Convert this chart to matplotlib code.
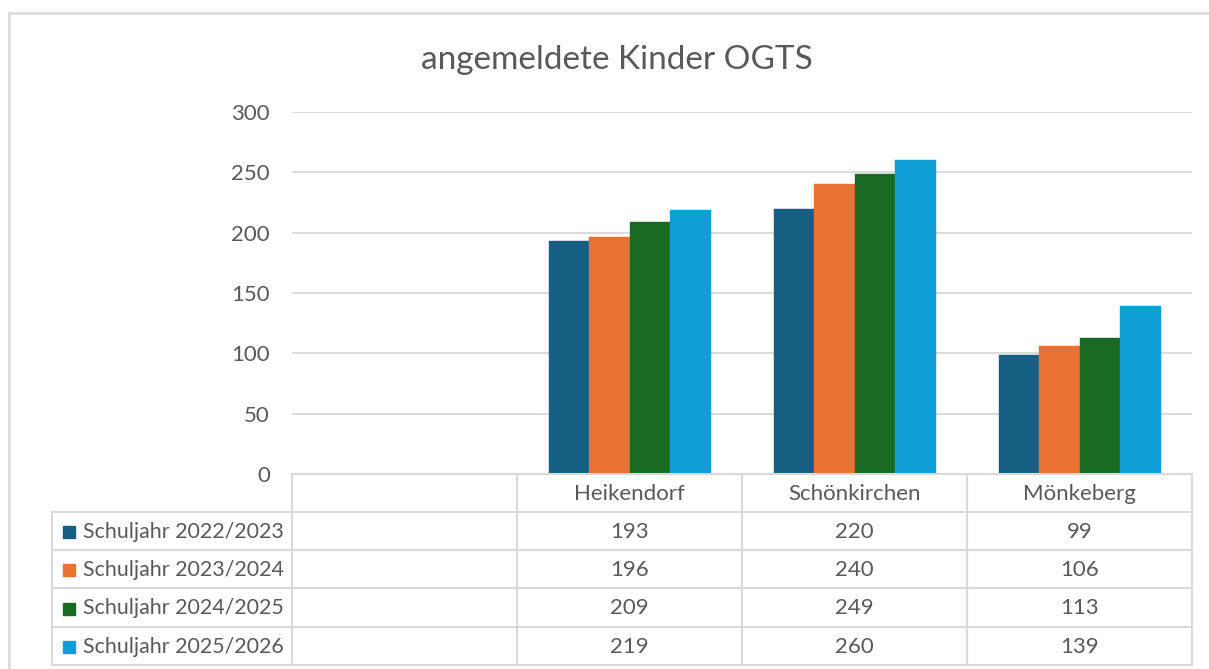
import matplotlib
matplotlib.use("Agg")
import matplotlib.pyplot as plt
from matplotlib.transforms import blended_transform_factory
from matplotlib.patches import Rectangle

categories = ["", "Heikendorf", "Schönkirchen", "Mönkeberg"]
series_names = ["Schuljahr 2022/2023", "Schuljahr 2023/2024",
                "Schuljahr 2024/2025", "Schuljahr 2025/2026"]
v2022 = [None, 193, 220, 99]
v2023 = [None, 196, 240, 106]
v2024 = [None, 209, 249, 113]
v2025 = [None, 219, 260, 139]
series_values = [v2022, v2023, v2024, v2025]
colors = ["#156082", "#E97132", "#196B24", "#0F9ED5"]
yticks = [0, 50, 100, 150, 200, 250, 300]
title = "angemeldete Kinder OGTS"

W, H = 1209, 669
plt.rcParams['font.family'] = ['Lato', 'DejaVu Sans']
TXT = "#595959"
GRID = "#d9d9d9"
FS = 16

fig = plt.figure(figsize=(W / 100, H / 100), dpi=100)

def fx(x):
    return x / W

def fy(y):
    return 1 - y / H

ax_l, ax_r, ax_t, ax_b = 292, 1192, 112, 474
ax = fig.add_axes([fx(ax_l), fy(ax_b), fx(ax_r - ax_l), (ax_b - ax_t) / H])

n = len(categories)
bw = 0.18
for si, vals in enumerate(series_values):
    xs = [i + 0.5 + (si - 1.5) * bw for i in range(n) if vals[i] is not None]
    hs = [v for v in vals if v is not None]
    ax.bar(xs, hs, width=bw, color=colors[si], edgecolor=colors[si], linewidth=0.3, zorder=3)

ax.set_xlim(0, n)
ax.set_ylim(0, 300)
ax.set_yticks(yticks)
ax.set_yticklabels([str(t) for t in yticks], fontsize=FS, color=TXT)
ax.tick_params(axis='y', length=0, pad=16)
ax.set_xticks([])
ax.grid(axis='y', color=GRID, linewidth=1.3, zorder=0)
for s in ax.spines.values():
    s.set_visible(False)

# outer chart border
fig.add_artist(plt.Line2D([fx(9), fx(9)], [fy(13), 0], color=GRID, lw=1.8, transform=fig.transFigure))
fig.add_artist(plt.Line2D([fx(9), 1], [fy(13), fy(13)], color=GRID, lw=1.8, transform=fig.transFigure))

# title
fig.text(fx(617), fy(60), title, ha='center', va='center', fontsize=24, color=TXT)

# data table
tr = blended_transform_factory(ax.transData, fig.transFigure)
row_y = [474, 512, 550, 588, 627, 665]
legend_left_data = (52 - ax_l) / ((ax_r - ax_l) / n)
lc = dict(color=GRID, lw=1.5, transform=tr, clip_on=False)
# horizontal lines
fig.add_artist(plt.Line2D([0, n], [fy(row_y[0])] * 2, **lc))
for y in row_y[1:]:
    fig.add_artist(plt.Line2D([legend_left_data, n], [fy(y)] * 2, **lc))
# vertical lines
for i in range(n + 1):
    fig.add_artist(plt.Line2D([i, i], [fy(row_y[0]), fy(row_y[-1])], **lc))
fig.add_artist(plt.Line2D([legend_left_data] * 2, [fy(row_y[1]), fy(row_y[-1])], **lc))

for i, c in enumerate(categories):
    fig.text(i + 0.5, fy((row_y[0] + row_y[1]) / 2 + 1), c, transform=tr,
             ha='center', va='center', fontsize=FS, color=TXT)

for si, (name, vals) in enumerate(zip(series_names, series_values)):
    yc = fy((row_y[si + 1] + row_y[si + 2]) / 2 + 1)
    fig.add_artist(Rectangle((fx(63), yc - 6 / H), 12 / W, 12 / H,
                             transform=fig.transFigure, color=colors[si]))
    fig.text(fx(83), yc, name, ha='left', va='center', fontsize=15.4, color=TXT)
    for i, v in enumerate(vals):
        if v is not None:
            fig.text(i + 0.5, yc, str(v), transform=tr, ha='center', va='center',
                     fontsize=FS, color=TXT)

fig.savefig("out.png", dpi=100, facecolor="white")
